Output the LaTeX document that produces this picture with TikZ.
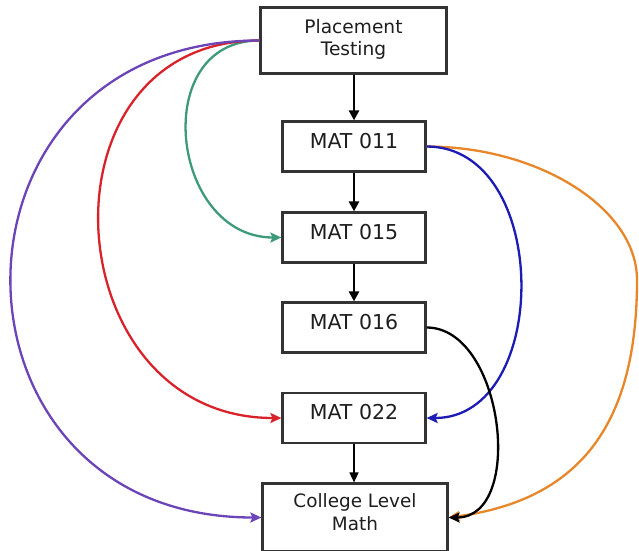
\documentclass[tikz,border=0pt]{standalone}
\usepackage{fontspec}
\setmainfont{DejaVu Sans}
\usetikzlibrary{arrows.meta}
\definecolor{cgreen}{HTML}{3D9A7A}
\definecolor{cred}{HTML}{D8232A}
\definecolor{cpurple}{HTML}{6B44B8}
\definecolor{cblue}{HTML}{1C1CB4}
\definecolor{corange}{HTML}{E8862A}
\definecolor{boxgray}{HTML}{333333}
\definecolor{textgray}{HTML}{1E1E1E}
\begin{document}
\begin{tikzpicture}[x=1pt,y=-1pt,
  box/.style={draw=boxgray, line width=2.2pt, fill=white, inner sep=0pt,
    text=textgray, text height=9pt, text depth=6pt},
  matbox/.style={box, minimum width=143pt, minimum height=50pt,
    font=\fontsize{20.5}{24}\selectfont},
  lbl/.style={anchor=base, inner sep=0pt, text=textgray},
  flow/.style={line width=2.8pt, -{Triangle[length=10pt,width=10pt]}},
  thinflow/.style={line width=1.5pt, -{Triangle[length=10pt,width=9pt]}},
  jump/.style={line width=2.3pt, -{Stealth[length=11pt,width=10pt,inset=2pt]}}]
\useasboundingbox (0,0) rectangle (639,550);

\node[box, minimum width=186pt, minimum height=66pt] (pt) at (353.5,40.5) {};
\node[lbl, font=\fontsize{18.6}{22}\selectfont] (ptA) at (353.5,33) {Placement};
\node[lbl, font=\fontsize{18.6}{22}\selectfont] (ptB) at (353.5,55) {Testing};

\node[matbox] (m011) at (354,146.5) {MAT 011};
\node[matbox] (m015) at (354,237.5) {MAT 015};
\node[matbox] (m016) at (354,327.5) {MAT 016};
\node[matbox] (m022) at (354,418) {MAT 022};

\node[box, minimum width=185pt, minimum height=68pt] (coll) at (355,517.5) {};
\node[lbl, font=\fontsize{18.4}{22}\selectfont] (collA) at (355,507) {College Level};
\node[lbl, font=\fontsize{18.4}{22}\selectfont] (collB) at (355,530) {Math};

% straight flow
\draw[flow] (pt.south -| m011.north) -- (m011.north);
\draw[flow] (m011) -- (m015);
\draw[flow] (m015) -- (m016);
\draw[thinflow] (m022.south) -- (coll.north -| m022.south);

% left jumps
\draw[jump, cgreen] (pt.west) .. controls +(-111,0) and +(-111,0) .. (m015.west);
\draw[jump, cred] (pt.west) .. controls +(-228,0) and +(-228,0) .. (m022.west);
\draw[jump, cpurple] (pt.west) .. controls +(-332,0) and +(-332,0) .. (coll.west);

% right jumps
\coordinate (orng) at (637,280);
\draw[jump, corange] (m011.east) .. controls +(112,0) and +(0,-72) .. (orng)
  .. controls +(0,140) and +(135,-18) .. (coll.east);
\draw[jump, cblue] (m011.east) .. controls +(125,0) and +(125,0) .. (m022.east);
\draw[jump, black] (m016.east) .. controls +(77,0) and +(77,0) .. (coll.east);
\end{tikzpicture}
\end{document}
